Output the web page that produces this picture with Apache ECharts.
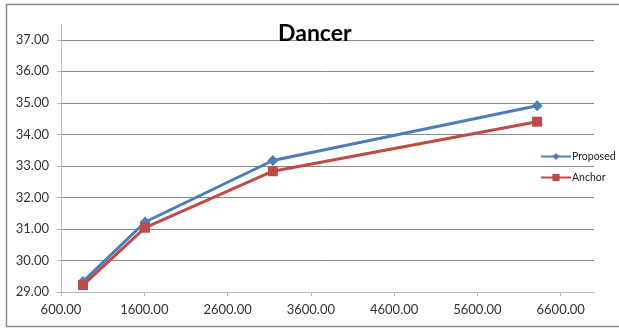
<!DOCTYPE html>
<html>
<head>
<meta charset="utf-8">
<script src="https://cdn.jsdelivr.net/npm/echarts@6/dist/echarts.min.js"></script>
<style>
html,body{margin:0;padding:0;background:#fff;}
#c{width:619px;height:331px;}
</style>
</head>
<body>
<div id="c"></div>
<script>
var bitrates = [864, 1610, 3144, 6317];
var proposed = [29.33, 31.22, 33.17, 34.91];
var anchor = [29.22, 31.04, 32.83, 34.40];
var xTicks = [600, 1600, 2600, 3600, 4600, 5600, 6600];
var yTicks = [29, 30, 31, 32, 33, 34, 35, 36, 37];
var seriesNames = ['Proposed', 'Anchor'];
var titleText = 'Dancer';

function pairs(xs, ys) { return xs.map(function (x, i) { return [x, ys[i]]; }); }

var chart = echarts.init(document.getElementById('c'), null, {renderer: 'canvas'});
var FONT = 'Lato, "Open Sans", sans-serif';
var gridColors = yTicks.map(function () { return '#8a8a8a'; });
gridColors[0] = 'transparent';
gridColors.push('transparent');

chart.setOption({
  animation: false,
  backgroundColor: '#fff',
  textStyle: {fontFamily: FONT},
  title: {
    text: titleText,
    left: 273, top: 17,
    textStyle: {fontFamily: FONT, fontWeight: 'bold', fontSize: 23, color: '#000'}
  },
  graphic: [{
    type: 'rect', silent: true, z: -1,
    shape: {x: 6.5, y: 4.5, width: 640, height: 322},
    style: {fill: 'none', stroke: '#8c8c8c', lineWidth: 1.5}
  }],
  legend: {
    orient: 'vertical', left: 535, top: 146, itemGap: 10,
    itemWidth: 30, itemHeight: 9,
    textStyle: {fontFamily: FONT, fontSize: 10.5, color: '#222', padding: [0, 0, 0, -4]},
    data: seriesNames
  },
  grid: {left: 61, right: 25, top: 24, bottom: 39},
  xAxis: {
    type: 'value', min: 600, max: 7000, interval: 1000,
    axisLine: {show: true, onZero: false, lineStyle: {color: '#b8b8b8', width: 1}},
    axisTick: {show: true, length: 4, inside: false, customValues: xTicks, lineStyle: {color: '#b8b8b8'}},
    axisLabel: {
      customValues: xTicks, margin: 11, fontSize: 13, color: '#333', fontFamily: FONT,
      formatter: function (v) { return v.toFixed(2); }
    },
    splitLine: {show: false}
  },
  yAxis: {
    type: 'value', min: 29, max: 37.5, interval: 1,
    axisLine: {show: true, lineStyle: {color: '#b8b8b8', width: 1}},
    axisTick: {show: true, length: 4, customValues: yTicks, lineStyle: {color: '#b8b8b8'}},
    axisLabel: {
      customValues: yTicks, margin: 12, fontSize: 13, color: '#333', fontFamily: FONT,
      formatter: function (v) { return v.toFixed(2); }
    },
    splitLine: {show: true, lineStyle: {color: gridColors, width: 1}}
  },
  series: [
    {
      name: seriesNames[0], type: 'line', data: pairs(bitrates, proposed),
      symbol: 'diamond', symbolSize: 11,
      itemStyle: {color: '#4A7EBB'},
      lineStyle: {color: '#4A7EBB', width: 3},
      z: 2
    },
    {
      name: seriesNames[1], type: 'line', data: pairs(bitrates, anchor),
      symbol: 'rect', symbolSize: 10,
      itemStyle: {color: '#BE4B48'},
      lineStyle: {color: '#BE4B48', width: 3},
      z: 3
    }
  ]
});
</script>
</body>
</html>
